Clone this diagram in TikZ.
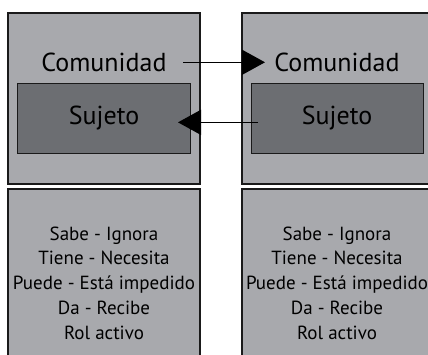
\documentclass[tikz,border=0pt]{standalone}
\usepackage{fontspec}
\setmainfont{PT Sans}
\usetikzlibrary{arrows.meta}
\definecolor{outerg}{HTML}{A8A9AD}
\definecolor{innerg}{HTML}{6C6E72}
\definecolor{edge}{HTML}{1A1A1A}
\tikzset{
  panel/.style={draw=edge,line width=1.3pt,fill=outerg},
  inner/.style={draw=edge,line width=1.3pt,fill=innerg},
  bigtxt/.style={font=\fontsize{26}{30}\selectfont,text=black,inner sep=0pt},
  listtxt/.style={font=\fontsize{19}{24.8}\selectfont,text=black,align=center,inner sep=0pt},
  arr/.style={draw=black,line width=1.3pt,-{Triangle[length=23pt,width=25pt]}}
}
\begin{document}
\begin{tikzpicture}[x=1pt,y=-1pt]
\clip (0,0) rectangle (428,355);
\fill[white] (0,0) rectangle (428,355);
% panels
\draw[panel] (8,13) rectangle (200,184);
\draw[panel] (8,189) rectangle (200,370);
\draw[panel] (242,13) rectangle (440,184);
\draw[panel] (242,189) rectangle (440,370);
% inner boxes
\node[inner,minimum width=173pt,minimum height=70pt,anchor=north west] (suj1box) at (17,83) {};
\node[inner,minimum width=172pt,minimum height=70pt,anchor=north west] (suj2box) at (251,83) {};
\node[bigtxt] (suj1) at (104,118) {Sujeto};
\node[bigtxt] (suj2) at (337,118) {Sujeto};
\node[bigtxt] (com1) at (104,62) {Comunidad};
\node[bigtxt] (com2) at (337,62) {Comunidad};
% lists
\node[listtxt] (list1) at (104,283) {Sabe - Ignora\\Tiene - Necesita\\Puede - Está impedido\\Da - Recibe\\Rol activo};
\node[listtxt] (list2) at (337,283) {Sabe - Ignora\\Tiene - Necesita\\Puede - Está impedido\\Da - Recibe\\Rol activo};
% arrows
\draw[arr] ([xshift=79pt,yshift=-0.3pt]com1.center) -- ([xshift=-72pt,yshift=-0.3pt]com2.center);
\draw[arr] ([xshift=7pt,yshift=-3.7pt]suj2box.west) -- ([xshift=-13.3pt,yshift=-3.7pt]suj1box.east);
\end{tikzpicture}
\end{document}
